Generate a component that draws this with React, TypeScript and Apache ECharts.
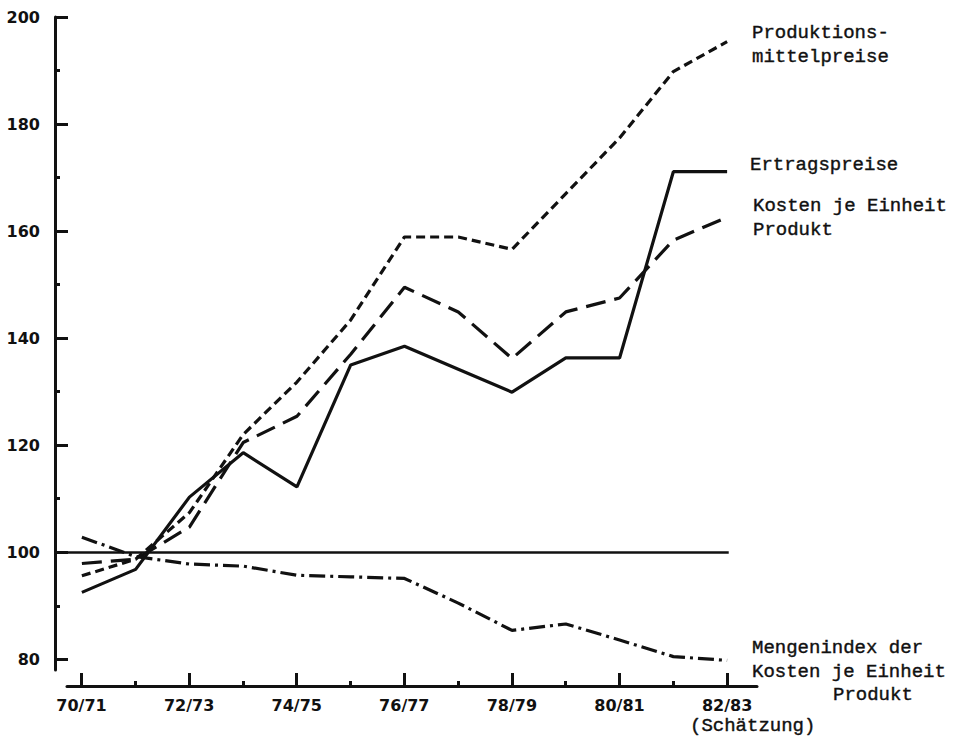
import React, { useEffect, useRef } from "react";
import * as echarts from "echarts";

const categories = ["70/71", "71/72", "72/73", "73/74", "74/75", "75/76", "76/77", "77/78", "78/79", "79/80", "80/81", "81/82", "82/83"];
const ertragspreise = [92.5, 96.8, 110.3, 118.6, 112.2, 135.0, 138.5, 134.2, 129.9, 136.3, 136.3, 171.1, 171.1];
const kostenJeEinheit = [97.9, 98.7, 104.7, 120.5, 125.4, 137.0, 149.5, 144.9, 136.2, 144.9, 147.5, 158.3, 162.6];
const produktionsmittelpreise = [95.6, 98.7, 107.4, 122.0, 131.8, 143.4, 158.9, 158.9, 156.6, 167.0, 177.4, 189.8, 195.4];
const mengenindex = [102.8, 99.2, 97.8, 97.4, 95.7, 95.4, 95.1, 90.5, 85.4, 86.6, 83.6, 80.5, 79.8];
const yMajorTicks = [80, 100, 120, 140, 160, 180, 200];
const yMinorTicks = [90, 110, 130, 150, 170, 190];
const xMajorIdx = [0, 2, 4, 6, 8, 10, 12];
const xMinorIdx = [1, 3, 5, 7, 9, 11];
const baseline = 100;

const INK = "#111";
const AXIS_FONT = "DejaVu Sans";
const MONO = "Liberation Mono";

const toPairs = (arr: number[]) => arr.map((v, i) => [i, v]);

export default function App() {
  const ref = useRef<HTMLDivElement>(null);
  useEffect(() => {
    if (!ref.current) return;
    const chart = echarts.init(ref.current, undefined, { renderer: "svg" });
    const lineBase = {
      type: "line",
      xAxisIndex: 0,
      yAxisIndex: 0,
      showSymbol: false,
      symbol: "none",
      silent: true,
    };
    const monoText = (text: string, x: number, y: number, align = "left") => ({
      type: "text",
      x,
      y,
      silent: true,
      style: {
        text,
        x: 0,
        y: 0,
        fill: INK,
        font: `19px "${MONO}"`,
        textAlign: align,
        textVerticalAlign: "middle",
        verticalAlign: "middle",
        stroke: INK,
        lineWidth: 0.4,
      },
    });
    chart.setOption({
      animation: false,
      backgroundColor: "#fff",
      grid: [
        { left: 55, right: 208, top: 17, bottom: 71, containLabel: false, outerBoundsMode: "none" },
        { left: 67, right: 205, top: 17, bottom: 55, containLabel: false, outerBoundsMode: "none" },
      ],
      xAxis: [
        { type: "value", gridIndex: 0, min: -0.5, max: 12.5, show: false },
        {
          type: "value",
          gridIndex: 1,
          min: -0.27,
          max: 12.556,
          position: "bottom",
          axisLine: { show: true, onZero: false, lineStyle: { color: INK, width: 3 } },
          axisTick: { show: true, inside: true, length: 13, customValues: xMajorIdx, lineStyle: { color: INK, width: 3 } },
          axisLabel: {
            show: true,
            customValues: xMajorIdx,
            margin: 11,
            color: INK,
            fontFamily: AXIS_FONT,
            fontWeight: "bold",
            fontSize: 16,
            formatter: (v: number) => categories[Math.round(v)] ?? "",
          },
          splitLine: { show: false },
        },
        {
          type: "value",
          gridIndex: 1,
          min: -0.27,
          max: 12.556,
          position: "bottom",
          axisLine: { show: false, onZero: false },
          axisTick: { show: true, inside: true, length: 5, customValues: xMinorIdx, lineStyle: { color: INK, width: 3 } },
          axisLabel: { show: false },
          splitLine: { show: false },
        },
      ],
      yAxis: [
        {
          type: "value",
          gridIndex: 0,
          min: 78,
          max: 200,
          position: "left",
          axisLine: { show: true, onZero: false, lineStyle: { color: INK, width: 3 } },
          axisTick: { show: true, inside: true, length: 13, customValues: yMajorTicks, lineStyle: { color: INK, width: 3 } },
          axisLabel: {
            show: true,
            customValues: yMajorTicks,
            margin: 15,
            color: INK,
            fontFamily: AXIS_FONT,
            fontWeight: "bold",
            fontSize: 16,
          },
          splitLine: { show: false },
        },
        {
          type: "value",
          gridIndex: 0,
          min: 78,
          max: 200,
          position: "left",
          offset: 0,
          axisLine: { show: false, onZero: false },
          axisTick: { show: true, inside: true, length: 5, customValues: yMinorTicks, lineStyle: { color: INK, width: 3 } },
          axisLabel: { show: false },
          splitLine: { show: false },
        },
        { type: "value", gridIndex: 1, min: 0, max: 1, show: false },
      ],
      series: [
        {
          ...lineBase,
          name: "Ertragspreise",
          data: toPairs(ertragspreise),
          lineStyle: { color: INK, width: 3.2, type: "solid" },
          markLine: {
            silent: true,
            symbol: "none",
            label: { show: false },
            lineStyle: { color: INK, width: 2.5, type: "solid" },
            data: [[{ coord: [-0.5, baseline] }, { coord: [12.03, baseline] }]],
          },
        },
        {
          ...lineBase,
          name: "Kosten je Einheit Produkt",
          data: toPairs(kostenJeEinheit),
          lineStyle: { color: INK, width: 3.2, type: [20, 9] },
        },
        {
          ...lineBase,
          name: "Produktionsmittelpreise",
          data: toPairs(produktionsmittelpreise),
          lineStyle: { color: INK, width: 3.2, type: [9, 5] },
        },
        {
          ...lineBase,
          name: "Mengenindex der Kosten je Einheit Produkt",
          data: toPairs(mengenindex),
          lineStyle: { color: INK, width: 3.2, type: [16, 5, 3, 5] },
        },
      ],
      graphic: [
        monoText("Produktions-", 752, 33),
        monoText("mittelpreise", 752, 57),
        monoText("Ertragspreise", 750, 165),
        monoText("Kosten je Einheit", 753, 206),
        monoText("Produkt", 753, 230),
        monoText("Mengenindex der", 752, 648),
        monoText("Kosten je Einheit", 752, 672),
        monoText("Produkt", 833, 695),
        monoText("(Schätzung)", 690, 726),
      ],
    });
    return () => chart.dispose();
  }, []);
  return <div ref={ref} style={{ position: "fixed", left: 0, top: 0, width: 962, height: 741 }} />;
}
